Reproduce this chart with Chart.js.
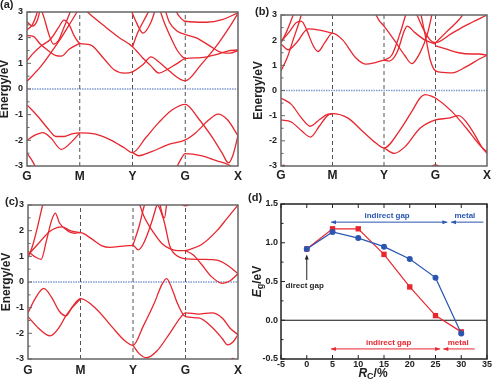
<!DOCTYPE html>
<html>
<head>
<meta charset="utf-8">
<script src="https://cdn.jsdelivr.net/npm/chart.js@4.4.1/dist/chart.umd.min.js"></script>
<style>
  body { margin: 0; background: #fff; width: 493px; height: 387px; position: relative; overflow: hidden; }
  canvas { position: absolute; }
</style>
</head>
<body>
<canvas id="pa" width="245" height="190" style="left:0;top:0"></canvas>
<canvas id="pb" width="248" height="190" style="left:245px;top:0"></canvas>
<canvas id="pc" width="245" height="197" style="left:0;top:190px"></canvas>
<canvas id="pd" width="248" height="197" style="left:245px;top:190px"></canvas>
<script>
const RED = "#e8262e";
const BLUE = "#2a55b0";
const FONT = "Liberation Sans, Arial, sans-serif";

// k-path and energy ticks for the band panels
const kTicks = [0, 1, 2, 3, 4];
const kLabels = ["G", "M", "Y", "G", "X"];
const eTicks = [-3, -2, -1, 0, 1, 2, 3];

// bands, each a list of [k, E(eV)]
const bandsA = [
  [[0,-0.62],[0.2,-1.05],[0.4,-1.55],[0.55,-1.85],[0.7,-1.85],[0.85,-1.75],[1,-1.71],[1.3,-1.76],[1.6,-2.0],[1.85,-2.3],[2,-2.48],[2.25,-1.9],[2.5,-1.3],[2.75,-0.82],[3,-0.6],[3.25,-1.15],[3.5,-1.85],[3.7,-2.5],[3.82,-2.88],[3.9,-2.6],[4,-1.82]],
  [[0,-2.0],[0.15,-1.8],[0.3,-1.7],[0.45,-1.9],[0.65,-2.35],[0.85,-2.05],[1,-1.71]],
  [[2,-2.48],[2.12,-2.6],[2.35,-2.45],[2.7,-2.15],[3,-1.98],[3.2,-1.7],[3.45,-1.2],[3.62,-0.98],[3.8,-1.2],[4,-1.82]],
  [[0,-2.5],[0.1,-2.8],[0.2,-3.2]],
  [[2.8,-3.2],[2.9,-2.8],[3,-2.52],[3.3,-2.6],[3.6,-2.8],[3.82,-2.95],[4,-3.2]],
  [[0,0.3],[0.25,0.85],[0.5,1.55],[0.65,2.0],[0.8,2.5],[0.95,3.0],[1.05,3.3]],
  [[0,1.1],[0.1,1.35],[0.25,1.65],[0.45,1.95],[0.6,2.4],[0.7,2.68],[0.8,2.5],[0.9,2.05],[1,1.78],[1.2,1.72],[1.45,1.2],[1.65,0.75],[1.85,0.62],[2,0.67],[2.2,0.95],[2.35,1.25],[2.5,1.05],[2.7,0.7],[2.85,0.45],[3,0.32],[3.3,0.95],[3.6,1.7],[3.85,2.45],[4,2.95]],
  [[0,2.08],[0.12,2.05],[0.25,1.75],[0.4,1.5],[0.55,1.3],[0.65,1.28],[0.8,1.55],[1,1.78]],
  [[0,2.62],[0.1,2.45],[0.2,2.7],[0.26,3.2]],
  [[0,2.3],[0.1,2.5],[0.18,2.9],[0.22,3.2]],
  [[0.25,3.2],[0.32,2.8],[0.42,2.1],[0.5,1.75],[0.6,1.9],[0.7,2.4],[0.8,2.9],[0.85,3.2]],
  [[1.05,3.2],[1.2,2.9],[1.5,2.4],[1.75,2.0],[2,1.65],[2.2,1.2],[2.35,0.9],[2.5,0.62],[2.65,0.75],[2.85,1.0],[3,1.18],[3.3,1.22],[3.6,1.35],[3.8,1.48],[4,1.52]],
  [[1.95,3.2],[2.05,2.7],[2.2,2.18],[2.35,2.6],[2.45,3.2]],
  [[2,1.65],[2.1,2.2],[2.25,2.8],[2.35,3.2]],
  [[2.6,3.2],[2.7,2.6],[2.85,2.25],[3,2.12],[3.2,2.0],[3.45,1.7],[3.65,1.45],[3.85,1.4],[4,1.5]],
  [[2.78,3.2],[2.88,2.85],[3,2.64],[3.4,2.6],[3.7,2.7],[4,2.97]],
  [[2.5,3.2],[2.6,2.6],[2.75,1.9],[2.85,1.5],[2.95,1.25],[3,1.18]]
];

const bandsB = [
  [[0,-0.3],[0.2,-0.55],[0.4,-1.1],[0.57,-1.42],[0.75,-1.15],[0.9,-0.95],[1,-0.92],[1.3,-1.1],[1.6,-1.65],[1.85,-2.1],[2,-2.28],[2.3,-1.6],[2.55,-0.8],[2.7,-0.3],[2.8,-0.16],[2.92,-0.22],[3,-0.3],[3.3,-0.8],[3.6,-1.5],[3.85,-2.15],[4,-2.45]],
  [[0,-1.17],[0.2,-1.25],[0.4,-1.6],[0.57,-1.85],[0.75,-1.4],[0.9,-1.0],[1,-0.92]],
  [[2,-2.28],[2.2,-2.5],[2.4,-2.25],[2.7,-1.5],[3,-1.17],[3.25,-1.1],[3.45,-1.0],[3.7,-1.55],[3.9,-2.25],[4,-2.5]],
  [[0,-3.05],[0.05,-2.97],[0.1,-3.05]],
  [[2.9,-3.05],[3,-2.96],[3.1,-3.05]],
  [[0,0.78],[0.12,1.3],[0.25,2.1],[0.35,2.7],[0.42,3.2]],
  [[0,1.95],[0.15,2.3],[0.3,2.7],[0.4,2.75],[0.5,2.4],[0.62,1.8],[0.72,1.55],[0.85,1.9],[1,2.28],[1.2,2.0],[1.45,1.3],[1.64,1.05],[1.85,1.12],[2,1.2],[2.1,1.17],[2.25,1.5],[2.4,2.4],[2.45,2.56],[2.6,2.3],[2.8,2.0],[3,1.85]],
  [[0,1.85],[0.14,1.62],[0.3,1.9],[0.53,2.45],[0.75,2.4],[1,2.28]],
  [[0,1.9],[0.1,2.3],[0.2,2.8],[0.27,3.2]],
  [[1.8,3.2],[1.9,2.8],[2,2.56],[2.2,2.0],[2.4,1.4],[2.54,1.07],[2.7,1.5],[2.85,2.3],[2.95,3.2]],
  [[2,1.2],[2.15,1.4],[2.3,2.2],[2.45,3.2]],
  [[2.6,3.2],[2.75,2.5],[2.9,2.0],[3,1.9],[3.3,2.25],[3.6,2.6],[4,3.0]],
  [[2.7,3.2],[2.82,2.0],[2.9,1.2],[3,0.78],[3.15,0.72],[3.32,0.7],[3.6,0.95],[3.85,1.25],[4,1.4]],
  [[3,1.77],[3.2,1.65],[3.45,1.5],[3.7,1.45],[3.85,1.45],[4,1.4]],
  [[3,1.9],[3.2,2.3],[3.45,2.8],[3.6,3.2]]
];

const bandsC = [
  [[0,-1.2],[0.15,-0.6],[0.3,-0.25],[0.45,-0.6],[0.6,-1.15],[0.72,-1.32],[0.85,-0.95],[1,-0.65],[1.3,-1.05],[1.6,-1.75],[1.85,-2.3],[2,-2.47],[2.2,-1.7],[2.4,-0.85],[2.55,-0.1],[2.64,0.13],[2.75,-0.3],[2.85,-0.85],[3,-1.35],[3.25,-1.4],[3.5,-1.75],[3.7,-2.2],[3.8,-2.45],[3.9,-2.35],[4,-2.05]],
  [[0,-1.35],[0.2,-1.8],[0.42,-2.1],[0.6,-1.75],[0.72,-1.32],[0.85,-0.98],[1,-0.65]],
  [[2,-2.47],[2.12,-2.8],[2.26,-2.95],[2.45,-2.7],[2.7,-2.0],[2.9,-1.4],[3,-1.2],[3.25,-1.25],[3.5,-1.2],[3.7,-1.4],[3.85,-1.8],[4,-2.05]],
  [[3.85,-3.05],[3.9,-2.98],[3.95,-3.05]],
  [[0,0.92],[0.1,1.5],[0.2,2.3],[0.28,3.0],[0.32,3.2]],
  [[0,1.2],[0.12,1.0],[0.25,0.88],[0.35,1.6],[0.45,2.4],[0.52,2.68],[0.6,2.3],[0.75,2.0],[0.88,1.9],[1,1.92],[1.2,1.7],[1.4,1.42],[1.56,1.35],[1.8,1.4],[2,1.43],[2.1,1.25],[2.2,1.5],[2.35,2.3],[2.48,3.2]],
  [[0,1.05],[0.2,1.5],[0.4,1.95],[0.55,2.12],[0.65,2.15],[0.8,2.0],[1,1.92]],
  [[2,1.43],[2.12,2.2],[2.22,3.0],[2.28,3.2]],
  [[2.1,3.2],[2.2,2.6],[2.4,1.9],[2.55,1.5],[2.7,1.3],[2.85,1.22],[3,1.22]],
  [[2.4,3.2],[2.5,2.9],[2.6,2.3],[2.7,1.4],[2.85,1.0],[3,0.9]],
  [[2.5,3.2],[2.55,2.7],[2.6,2.5],[2.65,3.2]],
  [[3,1.22],[3.3,1.45],[3.6,2.0],[3.8,2.5],[4,3.0]],
  [[3,1.22],[3.15,1.05],[3.3,0.7],[3.5,0.2],[3.7,-0.05],[3.85,0.05],[4,0.32]],
  [[3,0.9],[3.3,0.88],[3.6,0.85],[3.8,0.65],[4,0.32]],
  [[2.9,3.05],[3,2.97],[3.1,3.05]]
];

// panel (d): band gap vs R_C
const rc = [0, 5, 10, 15, 20, 25, 30];
const egRed = [0.92, 1.18, 1.18, 0.85, 0.43, 0.06, -0.15];
const egBlue = [0.92, 1.14, 1.06, 0.95, 0.79, 0.55, -0.17];
const rcTicks = [-5, 0, 5, 10, 15, 20, 25, 30, 35];
const egTicks = [-0.5, 0, 0.5, 1, 1.5];

Chart.defaults.font.family = FONT;

const deco = {
  id: "deco",
  afterDatasetsDraw(chart, args, o) {
    const { ctx, chartArea: a, scales } = chart;
    ctx.save();
    // inward ticks on the left axis (major + minor)
    ctx.strokeStyle = o.frame;
    ctx.lineWidth = 1;
    const yt = scales.y.ticks.map(t => t.value);
    yt.forEach((v, i) => {
      const y = scales.y.getPixelForValue(v);
      ctx.beginPath(); ctx.moveTo(a.left, y); ctx.lineTo(a.left + 4, y); ctx.stroke();
      if (i < yt.length - 1) {
        const ym = scales.y.getPixelForValue((v + yt[i + 1]) / 2);
        ctx.beginPath(); ctx.moveTo(a.left, ym); ctx.lineTo(a.left + 2.5, ym); ctx.stroke();
      }
    });
    if (o.xticks) {
      scales.x.ticks.forEach(t => {
        const x = scales.x.getPixelForValue(t.value);
        ctx.beginPath(); ctx.moveTo(x, a.bottom); ctx.lineTo(x, a.bottom - 4); ctx.stroke();
        ctx.beginPath(); ctx.moveTo(x, a.top); ctx.lineTo(x, a.top + 4); ctx.stroke();
      });
    }
    ctx.lineWidth = 1.5;
    ctx.strokeRect(a.left, a.top, a.right - a.left, a.bottom - a.top);
    // panel tag
    ctx.fillStyle = "#222";
    ctx.font = "bold 11px " + FONT;
    ctx.textBaseline = "middle";
    ctx.textAlign = "left";
    ctx.fillText(o.tag, o.tagX, o.tagY);
    if (o.title) {
      ctx.translate(o.titleX, (a.top + a.bottom) / 2);
      ctx.rotate(-Math.PI / 2);
      ctx.font = "bold 12px " + FONT;
      ctx.textAlign = "center";
      ctx.fillText(o.title, 0, 0);
    }
    ctx.restore();
  }
};

function fixedAxes(lay) {
  return {
    x: s => { s.height = lay.bottom; s.paddingLeft = 0; s.paddingRight = 0; },
    y: s => { s.width = lay.left; s.paddingTop = 0; s.paddingBottom = 0; }
  };
}

function bandChart(id, bands, lay) {
  const datasets = bands.map(b => ({
    data: b.map(p => ({ x: p[0], y: p[1] })),
    borderColor: RED, borderWidth: 1.3, pointRadius: 0,
    showLine: true, cubicInterpolationMode: "monotone"
  }));
  kTicks.slice(1, -1).forEach(k => datasets.push({
    data: [{ x: k, y: -3 }, { x: k, y: 3 }],
    borderColor: "#555", borderWidth: 1, borderDash: [4, 3], pointRadius: 0, showLine: true
  }));
  datasets.push({
    data: [{ x: 0, y: 0 }, { x: 4, y: 0 }],
    borderColor: "#7f9bd0", borderWidth: 1.3, borderDash: [1.5, 1], pointRadius: 0, showLine: true
  });
  const fit = fixedAxes(lay);
  new Chart(document.getElementById(id), {
    type: "scatter",
    data: { datasets },
    options: {
      responsive: false, animation: false, events: [],
      layout: { padding: { left: 0, top: lay.top, right: lay.right, bottom: 0 } },
      plugins: {
        legend: { display: false }, tooltip: { enabled: false },
        deco: { tag: lay.tag, tagX: lay.tagX, tagY: lay.tagY, title: "Energy/eV", titleX: lay.titleX, frame: "#666" }
      },
      scales: {
        x: {
          type: "linear", min: 0, max: 4, afterFit: fit.x,
          afterBuildTicks: s => { s.ticks = kTicks.map(v => ({ value: v })); },
          ticks: { callback: (v, i) => kLabels[i], padding: lay.xpad, autoSkip: false, maxRotation: 0,
                   color: "#222", font: { size: 12, weight: "bold" } },
          grid: { display: false, drawTicks: false }, border: { display: false }
        },
        y: {
          min: -3, max: 3, afterFit: fit.y,
          afterBuildTicks: s => { s.ticks = eTicks.map(v => ({ value: v })); },
          ticks: { padding: 4, color: "#222", font: { size: 9, weight: "bold" } },
          grid: { display: false, drawTicks: false }, border: { display: false }
        }
      }
    },
    plugins: [deco]
  });
}

bandChart("pa", bandsA, { left: 27, right: 7, top: 12, bottom: 24, xpad: 3, tag: "(a)", tagX: 0, tagY: 5, titleX: 5 });
bandChart("pb", bandsB, { left: 36, right: 6, top: 15, bottom: 24, xpad: 2, tag: "(b)", tagX: 10, tagY: 12, titleX: 13.5 });
bandChart("pc", bandsC, { left: 28, right: 7, top: 15, bottom: 28, xpad: 4, tag: "(c)", tagX: 5, tagY: 12, titleX: 6.5 });

// panel (d) annotations
const notes = {
  id: "notes",
  afterDatasetsDraw(chart) {
    const { ctx, scales: { x, y } } = chart;
    const px = v => x.getPixelForValue(v), py = v => y.getPixelForValue(v);
    function head(hx, hy, dx, dy, col) {
      ctx.fillStyle = col;
      ctx.beginPath();
      ctx.moveTo(hx, hy);
      ctx.lineTo(hx - dx * 5 - dy * 2, hy - dy * 5 - dx * 2);
      ctx.lineTo(hx - dx * 5 + dy * 2, hy - dy * 5 + dx * 2);
      ctx.closePath(); ctx.fill();
    }
    function split(x1, xm, x3, x2, yv, col) {
      const yy = py(yv);
      ctx.strokeStyle = col; ctx.lineWidth = 1;
      ctx.beginPath(); ctx.moveTo(px(x1), yy); ctx.lineTo(px(xm), yy); ctx.stroke();
      ctx.beginPath(); ctx.moveTo(px(x3), yy); ctx.lineTo(px(x2), yy); ctx.stroke();
      head(px(x1), yy, -1, 0, col);
      head(px(xm), yy, 1, 0, col);
      head(px(x3), yy, -1, 0, col);
    }
    function text(s, xv, yv, col) {
      ctx.fillStyle = col;
      ctx.font = "bold 8px " + FONT;
      ctx.textAlign = "center"; ctx.textBaseline = "middle";
      ctx.fillText(s, px(xv), py(yv));
    }
    ctx.save();
    split(4.7, 27.3, 28.0, 34.3, 1.266, BLUE);
    text("indirect gap", 15.6, 1.35, BLUE);
    text("metal", 30.7, 1.35, BLUE);
    split(4.7, 25.9, 26.5, 32.6, -0.37, RED);
    text("indirect gap", 15.9, -0.29, RED);
    text("metal", 29.4, -0.29, RED);
    ctx.strokeStyle = "#222"; ctx.lineWidth = 1;
    ctx.beginPath(); ctx.moveTo(px(0), py(0.52)); ctx.lineTo(px(0), py(0.8)); ctx.stroke();
    head(px(0), py(0.85), 0, -1, "#222");
    text("direct gap", -0.4, 0.44, "#222");
    ctx.restore();

    // axis titles with subscripts
    const a = chart.chartArea;
    function sub(parts, cx, cy, rot) {
      ctx.save();
      ctx.translate(cx, cy);
      if (rot) ctx.rotate(-Math.PI / 2);
      ctx.fillStyle = "#222"; ctx.textBaseline = "alphabetic"; ctx.textAlign = "left";
      let w = 0;
      parts.forEach(p => { ctx.font = p[1]; w += ctx.measureText(p[0]).width; });
      let cur = -w / 2;
      parts.forEach(p => { ctx.font = p[1]; ctx.fillText(p[0], cur, 4 + p[2]); cur += ctx.measureText(p[0]).width; });
      ctx.restore();
    }
    sub([["E", "italic bold 12px " + FONT, 0], ["g", "bold 9px " + FONT, 2.5], ["/eV", "bold 12px " + FONT, 0]], 11.5, (a.top + a.bottom) / 2, true);
    sub([["R", "italic bold 12px " + FONT, 0], ["C", "bold 9px " + FONT, 2.5], ["/%", "bold 12px " + FONT, 0]], 128, 182.5, false);
  }
};

const layD = { left: 36, right: 6, top: 14, bottom: 28 };
const fitD = fixedAxes(layD);
new Chart(document.getElementById("pd"), {
  type: "scatter",
  data: {
    datasets: [
      { data: rc.map((v, i) => ({ x: v, y: egBlue[i] })), showLine: true, borderColor: BLUE, backgroundColor: BLUE,
        borderWidth: 1.2, pointStyle: "circle", pointRadius: 3, pointBorderWidth: 0 },
      { data: rc.map((v, i) => ({ x: v, y: egRed[i] })), showLine: true, borderColor: RED, backgroundColor: RED,
        borderWidth: 1.2, pointStyle: "rect", pointRadius: 3.8, pointBorderWidth: 0 },
      { data: [{ x: -5, y: 0 }, { x: 35, y: 0 }], showLine: true, borderColor: "#111", borderWidth: 1.2, pointRadius: 0 }
    ]
  },
  options: {
    responsive: false, animation: false, events: [],
    layout: { padding: { left: 0, top: layD.top, right: layD.right, bottom: 0 } },
    plugins: {
      legend: { display: false }, tooltip: { enabled: false },
      deco: { tag: "(d)", tagX: 3, tagY: 8, title: null, frame: "#222", xticks: true }
    },
    scales: {
      x: {
        type: "linear", min: -5, max: 35, afterFit: fitD.x,
        afterBuildTicks: s => { s.ticks = rcTicks.map(v => ({ value: v })); },
        ticks: { padding: 0, autoSkip: false, maxRotation: 0, color: "#222", font: { size: 9, weight: "bold" } },
        grid: { display: false, drawTicks: false }, border: { display: false }
      },
      y: {
        min: -0.5, max: 1.5, afterFit: fitD.y,
        afterBuildTicks: s => { s.ticks = egTicks.map(v => ({ value: v })); },
        ticks: { padding: 3, callback: v => v.toFixed(1), color: "#222", font: { size: 9, weight: "bold" } },
        grid: { display: false, drawTicks: false }, border: { display: false }
      }
    }
  },
  plugins: [deco, notes]
});
</script>
</body>
</html>
